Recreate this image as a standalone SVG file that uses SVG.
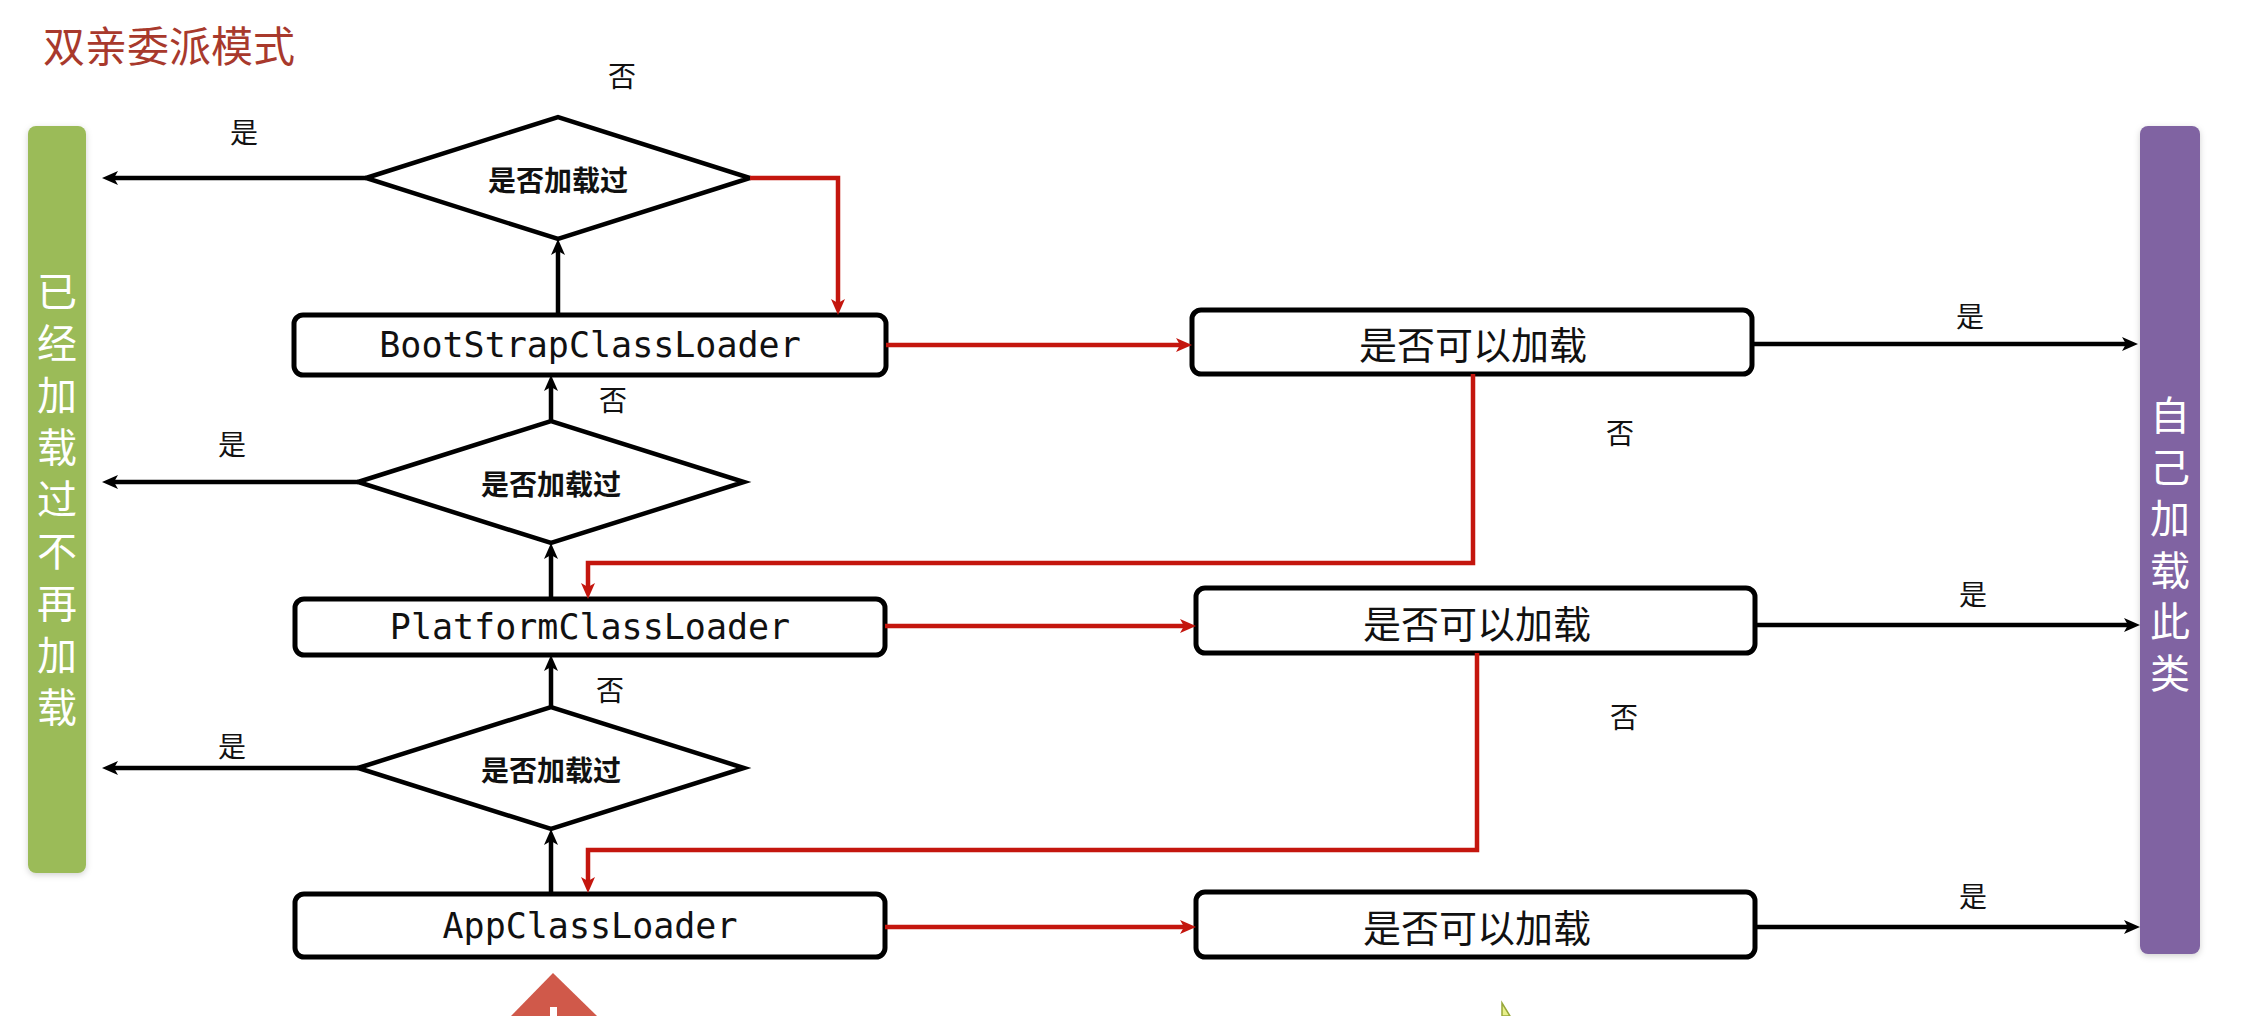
<svg xmlns="http://www.w3.org/2000/svg" width="2247" height="1016" viewBox="0 0 2247 1016">
  <style>
    .title { font-family: "Noto Sans CJK SC", "Liberation Sans", sans-serif; font-size: 42px; fill: #A8392C; }
    .bar { stroke: none; }
    .barText { font-family: "Noto Sans CJK SC", "Liberation Sans", sans-serif; font-size: 40px; fill: #ffffff; writing-mode: vertical-rl; text-orientation: upright; }
    .box { fill: #ffffff; stroke: #000000; stroke-width: 5; }
    .diamond { fill: #ffffff; stroke: #000000; stroke-width: 4.5; stroke-linejoin: miter; }
    .mono { font-family: "DejaVu Sans Mono", "Liberation Mono", monospace; font-size: 35px; fill: #111111; text-anchor: middle; }
    .dtext { font-family: "Noto Sans CJK SC", "Liberation Sans", sans-serif; font-size: 28px; font-weight: bold; fill: #111111; text-anchor: middle; dominant-baseline: central; }
    .ctext { font-family: "Noto Sans CJK SC", "Liberation Sans", sans-serif; font-size: 38px; fill: #111111; text-anchor: middle; dominant-baseline: central; }
    .label { font-family: "Noto Sans CJK SC", "Liberation Sans", sans-serif; font-size: 28px; fill: #111111; text-anchor: middle; dominant-baseline: central; }
    .black { fill: none; stroke: #000000; stroke-width: 4.5; marker-end: url(#arrowBlack); }
    .red { fill: none; stroke: #C4160E; stroke-width: 4.5; marker-end: url(#arrowRed); }
  </style>
  <defs>
    <marker id="arrowBlack" markerUnits="userSpaceOnUse" markerWidth="18" markerHeight="16" refX="6" refY="7" orient="auto">
      <path d="M0,0 L16,7 L0,14 L4,7 z" fill="#000000"/>
    </marker>
    <marker id="arrowRed" markerUnits="userSpaceOnUse" markerWidth="18" markerHeight="16" refX="6" refY="7" orient="auto">
      <path d="M0,0 L16,7 L0,14 L4,7 z" fill="#C4160E"/>
    </marker>
    <filter id="shadow" x="-30%" y="-5%" width="160%" height="110%">
      <feDropShadow dx="0" dy="2" stdDeviation="3" flood-color="#000000" flood-opacity="0.18"/>
    </filter>
  </defs>

  <rect x="0" y="0" width="2247" height="1016" fill="#ffffff"/>

  <text class="title" x="43" y="62">双亲委派模式</text>

  <g id="loaded-bar">
    <rect class="bar" x="28" y="126" width="58" height="747" rx="8" fill="#9BBB59" filter="url(#shadow)"/>
    <text class="barText" x="57" y="271" style="letter-spacing: 12px">已经加载过不再加载</text>
  </g>

  <g id="self-load-bar">
    <rect class="bar" x="2140" y="126" width="60" height="828" rx="8" fill="#8064A2" filter="url(#shadow)"/>
    <text class="barText" x="2170" y="395" style="letter-spacing: 11.5px">自己加载此类</text>
  </g>

  <g id="diamond-1">
    <polygon class="diamond" points="366,178 558,117 750,178 558,239"/>
    <text class="dtext" x="558" y="179">是否加载过</text>
  </g>
  <g id="diamond-2">
    <polygon class="diamond" points="358,482 551,421 744,482 551,543"/>
    <text class="dtext" x="551" y="483">是否加载过</text>
  </g>
  <g id="diamond-3">
    <polygon class="diamond" points="358,768 551,707 744,768 551,829"/>
    <text class="dtext" x="551" y="769">是否加载过</text>
  </g>

  <g id="bootstrap-loader">
    <rect class="box" x="294" y="315" width="592" height="60" rx="9"/>
    <text class="mono" x="590" y="357">BootStrapClassLoader</text>
  </g>
  <g id="platform-loader">
    <rect class="box" x="295" y="599" width="590" height="56" rx="9"/>
    <text class="mono" x="590" y="639">PlatformClassLoader</text>
  </g>
  <g id="app-loader">
    <rect class="box" x="295" y="894" width="590" height="63" rx="9"/>
    <text class="mono" x="590" y="938">AppClassLoader</text>
  </g>

  <g id="can-load-1">
    <rect class="box" x="1192" y="310" width="560" height="64" rx="9"/>
    <text class="ctext" x="1473" y="342">是否可以加载</text>
  </g>
  <g id="can-load-2">
    <rect class="box" x="1196" y="588" width="559" height="65" rx="9"/>
    <text class="ctext" x="1477" y="621">是否可以加载</text>
  </g>
  <g id="can-load-3">
    <rect class="box" x="1196" y="892" width="559" height="65" rx="9"/>
    <text class="ctext" x="1477" y="925">是否可以加载</text>
  </g>

  <g id="connectors">
    <path class="black" d="M558,315 L558,249"/>
    <path class="black" d="M551,421 L551,385"/>
    <path class="black" d="M551,599 L551,553"/>
    <path class="black" d="M551,707 L551,665"/>
    <path class="black" d="M551,894 L551,839"/>
    <path class="black" d="M366,178 L112,178"/>
    <path class="black" d="M358,482 L112,482"/>
    <path class="black" d="M358,768 L112,768"/>
    <path class="black" d="M1752,344 L2128,344"/>
    <path class="black" d="M1755,625 L2130,625"/>
    <path class="black" d="M1755,927 L2130,927"/>
    <path class="red" d="M750,178 L838,178 L838,305"/>
    <path class="red" d="M886,345 L1182,345"/>
    <path class="red" d="M1473,374 L1473,563 L588,563 L588,589"/>
    <path class="red" d="M885,626 L1186,626"/>
    <path class="red" d="M1477,653 L1477,850 L588,850 L588,883"/>
    <path class="red" d="M885,927 L1186,927"/>
    <text class="label" x="622" y="75">否</text>
    <text class="label" x="244" y="131">是</text>
    <text class="label" x="613" y="399">否</text>
    <text class="label" x="232" y="443">是</text>
    <text class="label" x="610" y="689">否</text>
    <text class="label" x="232" y="745">是</text>
    <text class="label" x="1970" y="315">是</text>
    <text class="label" x="1973" y="593">是</text>
    <text class="label" x="1973" y="895">是</text>
    <text class="label" x="1620" y="432">否</text>
    <text class="label" x="1624" y="716">否</text>
  </g>

  <polygon points="553,973 511,1016 597,1016" fill="#D0594A"/>
  <rect x="550" y="1007" width="7" height="9" fill="#ffffff"/>
  <polygon points="1502,1003 1502,1016 1510,1016" fill="#E8F08A" stroke="#98A83A" stroke-width="1.5"/>
</svg>
